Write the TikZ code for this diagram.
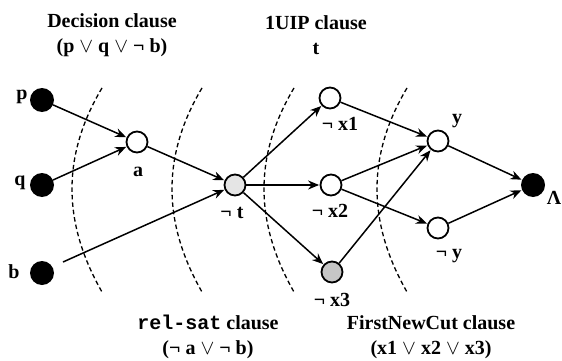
\documentclass[tikz,border=0pt]{standalone}
\usepackage{fontspec}
\setmainfont{Liberation Serif}
\setmonofont{Liberation Mono}
\usetikzlibrary{arrows.meta}
\begin{document}
\begin{tikzpicture}[x=1pt,y=-1pt,
  every node/.style={font=\fontsize{20}{25}\selectfont\bfseries},
  lit/.style={circle,fill=black,minimum size=24pt,inner sep=0pt},
  imp/.style={circle,draw=black,line width=1.8pt,fill=white,minimum size=21pt,inner sep=0pt},
  lbl/.style={inner sep=0pt},
  head/.style={inner sep=0pt,align=center},
  edge/.style={line width=1.5pt,-{Stealth[length=11pt,width=9pt]},shorten >=0.5pt},
  cut/.style={line width=1.3pt,dash pattern=on 4.5pt off 3pt}]
\useasboundingbox (0,0) rectangle (562,361);

% cuts (dashed arcs)
\foreach \xt in {102,202,294,407}{
  \draw[cut] (\xt,88) .. controls (\xt-40,155) and (\xt-40,222) .. (\xt,292);
}

% nodes
\node[lit] (p) at (42,100) {};
\node[lit] (q) at (42,185) {};
\node[lit] (b) at (42,273) {};
\node[imp] (a) at (137,142) {};
\node[imp,fill=gray!20] (nt) at (235,185) {};
\node[imp] (nx1) at (330,98) {};
\node[imp] (nx2) at (331,185) {};
\node[imp,fill=gray!45] (nx3) at (332,272) {};
\node[imp] (y) at (438,141) {};
\node[imp] (ny) at (438,228) {};
\node[lit] (L) at (533,185) {};
\coordinate (bstart) at (63,262);

% node labels
\node[lbl] (lp) at (22,97) {p};
\node[lbl] (lq) at (20,183) {q};
\node[lbl] (lb) at (14,272) {b};
\node[lbl] (la) at (138,172) {a};
\node[lbl] (lnt) at (232,213) {¬ t};
\node[lbl] (lnx1) at (340,124) {¬ x1};
\node[lbl] (lnx2) at (330,211) {¬ x2};
\node[lbl] (lnx3) at (332,300) {¬ x3};
\node[lbl] (ly) at (457,121) {y};
\node[lbl] (lny) at (449,256) {¬ y};
\node[lbl] (lL) at (554,198) {Λ};

% edges
\draw[edge] (p) -- (a);
\draw[edge] (q) -- (a);
\draw[edge] (a) -- (nt);
\draw[edge] (bstart) -- (nt);
\draw[edge] (nt) -- (nx1);
\draw[edge] (nt) -- (nx2);
\draw[edge] (nt) -- (nx3);
\draw[edge] (nx1) -- (y);
\draw[edge] (nx2) -- (y);
\draw[edge] (nx3) -- (y);
\draw[edge] (nx2) -- (ny);
\draw[edge] (y) -- (L);
\draw[edge] (ny) -- (L);

% headings
\node[head] (h1) at (112,35) {Decision clause\\(p $\vee$ q $\vee$ ¬ b)};
\node[head] (h2) at (316,35) {1UIP clause\\t};
\node[head] (h3) at (208,337) {\texttt{rel-sat} clause\\(¬ a $\vee$ ¬ b)};
\node[head] (h4) at (431,337) {FirstNewCut clause\\(x1 $\vee$ x2 $\vee$ x3)};
\end{tikzpicture}
\end{document}
